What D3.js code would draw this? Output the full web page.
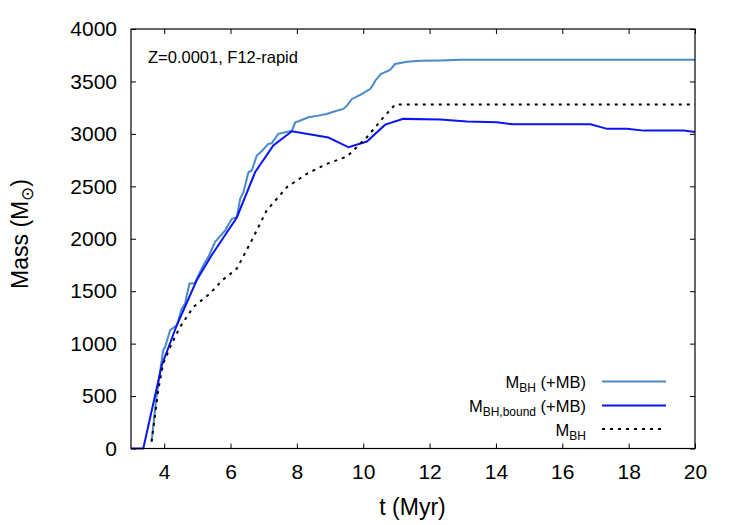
<!DOCTYPE html>
<html>
<head>
<meta charset="utf-8">
<script src="https://cdn.jsdelivr.net/npm/d3@7"></script>
<style>
  body { margin: 0; background: #fff; }
  text { font-family: "Liberation Sans", Arial, sans-serif; fill: #000; }
</style>
</head>
<body>
<svg id="chart" width="750" height="525"></svg>
<script>
// M_BH (+MB), light blue
var tMB = [3.62, 3.78, 3.97, 4.03, 4.18, 4.38, 4.53, 4.63, 4.76, 4.93, 5.03, 5.18, 5.33, 5.53, 5.84,
  6.04, 6.19, 6.29, 6.39, 6.54, 6.64, 6.79, 6.94, 7.14, 7.24, 7.44, 7.65, 7.85, 7.95, 8.05, 8.35,
  8.65, 8.90, 9.15, 9.40, 9.51, 9.66, 9.91, 10.21, 10.31, 10.36, 10.53, 10.81, 10.96, 11.32, 11.72,
  12.32, 12.92, 20];
var mMB = [65, 525, 937, 969, 1128, 1175, 1334, 1382, 1572, 1578, 1651, 1747, 1825, 1968, 2080,
  2191, 2206, 2381, 2444, 2634, 2651, 2793, 2834, 2905, 2910, 3000, 3015, 3031, 3110, 3120, 3158,
  3174, 3190, 3215, 3238, 3269, 3333, 3371, 3428, 3476, 3507, 3571, 3609, 3666, 3688, 3697,
  3700, 3707, 3707];

// M_BH,bound (+MB), blue
var tBound = [3, 3.37, 3.93, 4.38, 4.98, 5.43, 6.19, 6.74, 7.29, 7.85, 8.95, 9.56, 10.11, 10.66,
  11.21, 12.32, 13.13, 14.03, 14.53, 16.85, 17.35, 17.95, 18.45, 19.66, 20];
var mBound = [0, 0, 795, 1175, 1604, 1842, 2203, 2634, 2889, 3025, 2965, 2872, 2927, 3088,
  3143, 3136, 3117, 3110, 3091, 3091, 3048, 3048, 3031, 3031, 3017];

// M_BH, dotted black
var tBH = [3.62, 3.82, 3.97, 4.23, 4.48, 4.88, 5.38, 5.75, 6.19, 6.69, 7.09, 7.70, 8.30, 8.90,
  9.51, 10.11, 10.61, 10.96, 20];
var mBH = [65, 557, 811, 1001, 1159, 1350, 1477, 1604, 1715, 2016, 2270, 2492, 2619, 2714,
  2784, 2968, 3158, 3279, 3279];

var xTicks = [4, 6, 8, 10, 12, 14, 16, 18, 20];
var yTicks = [0, 500, 1000, 1500, 2000, 2500, 3000, 3500, 4000];

var margin = {left: 131, right: 55, top: 29, bottom: 76.5};
var W = 750, H = 525;
var svg = d3.select("#chart");

var x = d3.scaleLinear().domain([3, 20]).range([margin.left, W - margin.right]);
var y = d3.scaleLinear().domain([0, 4000]).range([H - margin.bottom, margin.top]);

function zip(ts, ms) { return ts.map(function(t, i) { return [t, ms[i]]; }); }

var line = d3.line()
    .x(function(d) { return x(d[0]); })
    .y(function(d) { return y(d[1]); });

// axes (ticks point inward, gnuplot style)
var gx = svg.append("g")
    .attr("transform", "translate(0," + y(0) + ")")
    .call(d3.axisBottom(x).tickValues(xTicks).tickSize(-5).tickPadding(16).tickFormat(d3.format("d")));
var gxt = svg.append("g")
    .attr("transform", "translate(0," + y(4000) + ")")
    .call(d3.axisTop(x).tickValues(xTicks).tickSize(-5).tickFormat(""));
var gy = svg.append("g")
    .attr("transform", "translate(" + x(3) + ",0)")
    .call(d3.axisLeft(y).tickValues(yTicks).tickSize(-5).tickPadding(14).tickFormat(d3.format("d")));
var gyr = svg.append("g")
    .attr("transform", "translate(" + x(20) + ",0)")
    .call(d3.axisRight(y).tickValues(yTicks).tickSize(-5).tickFormat(""));

[gx, gxt, gy, gyr].forEach(function(g) {
  g.select(".domain").remove();
  g.selectAll(".tick line").attr("stroke", "#000");
  g.selectAll(".tick text").style("font-size", "21px").attr("fill", "#000");
});

// curves
svg.append("path").datum(zip(tMB, mMB))
    .attr("d", line).attr("fill", "none")
    .attr("stroke", "#4a8ac6").attr("stroke-width", 2);
svg.append("path").datum(zip(tBound, mBound))
    .attr("d", line).attr("fill", "none")
    .attr("stroke", "#0a14f5").attr("stroke-width", 2);
svg.append("path").datum(zip(tBH, mBH))
    .attr("d", line).attr("fill", "none")
    .attr("stroke", "#000").attr("stroke-width", 2)
    .attr("stroke-dasharray", "3,5");

// frame
svg.append("rect")
    .attr("x", x(3)).attr("y", y(4000))
    .attr("width", x(20) - x(3)).attr("height", y(0) - y(4000))
    .attr("fill", "none").attr("stroke", "#000").attr("stroke-width", 1.2);

// label
svg.append("text")
    .attr("x", 148).attr("y", 62.5)
    .style("font-size", "16.5px")
    .text("Z=0.0001, F12-rapid");

// axis titles
svg.append("text")
    .attr("x", 412.5).attr("y", 515)
    .attr("text-anchor", "middle")
    .style("font-size", "23px")
    .text("t (Myr)");

var yt = svg.append("text")
    .attr("transform", "translate(28,234) rotate(-90)")
    .attr("text-anchor", "middle")
    .style("font-size", "23px");
yt.append("tspan").text("Mass (M");
yt.append("tspan").attr("dy", 5).style("font-size", "17px").text("\u2299");
yt.append("tspan").attr("dy", -5).text(")");

// legend
var legend = [
  {sub: "BH", tail: " (+MB)", color: "#4a8ac6", dash: null},
  {sub: "BH,bound", tail: " (+MB)", color: "#0a14f5", dash: null},
  {sub: "BH", tail: "", color: "#000", dash: "3,5"}
];
var legY = [388, 412, 435.5];
legend.forEach(function(d, i) {
  var t = svg.append("text")
      .attr("x", 586).attr("y", legY[i])
      .attr("text-anchor", "end")
      .style("font-size", "16.5px");
  t.append("tspan").text("M");
  t.append("tspan").attr("dy", 4).style("font-size", "12px").text(d.sub);
  if (d.tail) t.append("tspan").attr("dy", -4).text(d.tail);
  svg.append("line")
      .attr("x1", 602).attr("x2", 666)
      .attr("y1", legY[i] - 6.5).attr("y2", legY[i] - 6.5)
      .attr("stroke", d.color).attr("stroke-width", 2)
      .attr("stroke-dasharray", d.dash);
});
</script>
</body>
</html>
